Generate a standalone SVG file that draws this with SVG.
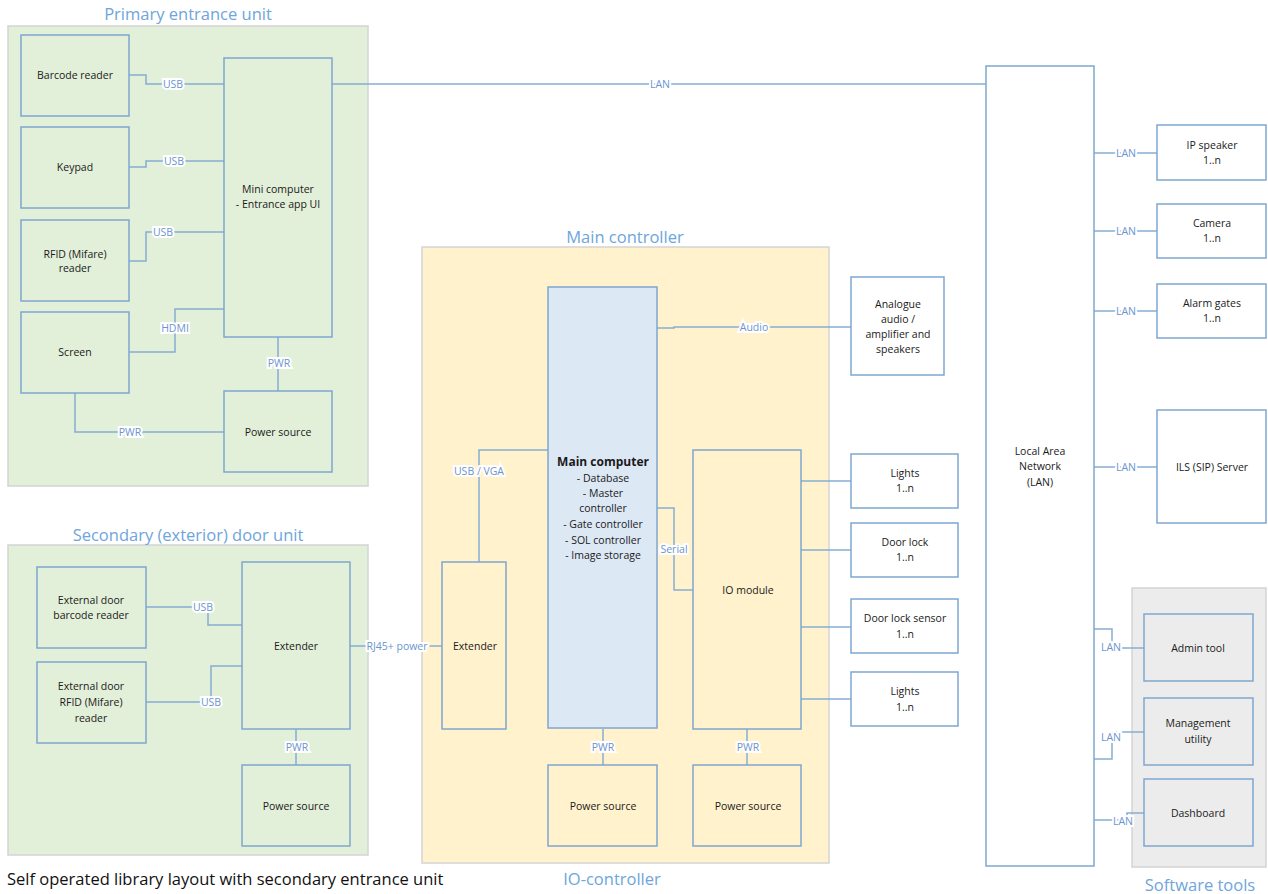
<svg xmlns="http://www.w3.org/2000/svg" width="1268" height="894" viewBox="0 0 1268 894">
<style>
.panel{stroke:#d4d4d4;stroke-width:1.5}
.green{fill:#e2efd9}
.yellow{fill:#fff2cc}
.grey{fill:#ececec}
.box{stroke:#7fa7cf;stroke-width:1.5}
.bg{fill:#e2efd9}
.by{fill:#fff2cc}
.bw{fill:#ffffff}
.bb{fill:#dde8f5}
.bgr{fill:#ececec}
.t{font-family:"Open Sans","Liberation Sans",sans-serif;font-size:10.5px;fill:#1a1a1a;text-anchor:middle}
.tb{font-weight:bold;font-size:12px}
.title{font-family:"Open Sans","Liberation Sans",sans-serif;font-size:16.5px;fill:#6ea5dc;text-anchor:middle}
.cap{font-family:"Open Sans","Liberation Sans",sans-serif;font-size:16.5px;fill:#111}
.conn path{fill:none;stroke:#86add4;stroke-width:1.5}
.lbl{font-family:"Open Sans","Liberation Sans",sans-serif;font-size:10.5px;fill:#6c94cf;text-anchor:middle;stroke:#ffffff;stroke-width:4;paint-order:stroke;stroke-linejoin:miter}
</style>

<g id="panels">
<rect class="panel green" x="8" y="26" width="360" height="460"/>
<text class="title" x="188" y="20">Primary entrance unit</text>
<rect class="panel green" x="8" y="545" width="360" height="310"/>
<text class="title" x="188" y="541">Secondary (exterior) door unit</text>
<rect class="panel yellow" x="422" y="247" width="407" height="616"/>
<text class="title" x="625" y="243">Main controller</text>
<text class="title" x="612" y="885">IO-controller</text>
<rect class="panel grey" x="1132" y="588" width="134" height="279"/>
<text class="title" x="1200" y="891">Software tools</text>
<text class="cap" x="7" y="885">Self operated library layout with secondary entrance unit</text>
</g>

<g id="connectors" class="conn">
<path d="M129,75 H146 V84 H224"/>
<path d="M129,167 H146 V161 H224"/>
<path d="M129,261 H146 V232 H224"/>
<path d="M129,352 H175 V309 H224"/>
<path d="M278,337 V391"/>
<path d="M75,393 V432 H224"/>
<path d="M332,84 H986"/>
<path d="M146,607 H208 V625 H242"/>
<path d="M146,702 H211 V666 H242"/>
<path d="M296,729 V765"/>
<path d="M350,646 H442"/>
<path d="M548,450 H479 V562"/>
<path d="M657,508 H674 V590 H693"/>
<path d="M657,328 H674 V327 H851"/>
<path d="M603,729 V765"/>
<path d="M747,729 V765"/>
<path d="M801,481 H851"/>
<path d="M801,550 H851"/>
<path d="M801,627 H851"/>
<path d="M801,699 H851"/>
<path d="M1094,153 H1157"/>
<path d="M1094,231 H1157"/>
<path d="M1094,311 H1157"/>
<path d="M1094,467 H1157"/>
<path d="M1094,629 H1112 V648 H1144"/>
<path d="M1094,759 H1112 V732 H1144"/>
<path d="M1094,820 H1127 V813 H1144"/>
<text class="lbl" x="173" y="88">USB</text>
<text class="lbl" x="174" y="165">USB</text>
<text class="lbl" x="163" y="236">USB</text>
<text class="lbl" x="175" y="332">HDMI</text>
<text class="lbl" x="279" y="367">PWR</text>
<text class="lbl" x="130" y="436">PWR</text>
<text class="lbl" x="660" y="88">LAN</text>
<text class="lbl" x="203" y="611">USB</text>
<text class="lbl" x="211" y="706">USB</text>
<text class="lbl" x="297" y="751">PWR</text>
<text class="lbl" x="397" y="650">RJ45+ power</text>
<text class="lbl" x="479" y="475">USB / VGA</text>
<text class="lbl" x="674" y="553">Serial</text>
<text class="lbl" x="754" y="331">Audio</text>
<text class="lbl" x="603" y="751">PWR</text>
<text class="lbl" x="748" y="751">PWR</text>
<text class="lbl" x="1126" y="157">LAN</text>
<text class="lbl" x="1126" y="235">LAN</text>
<text class="lbl" x="1126" y="315">LAN</text>
<text class="lbl" x="1126" y="471">LAN</text>
<text class="lbl" x="1111" y="651">LAN</text>
<text class="lbl" x="1111" y="741">LAN</text>
<text class="lbl" x="1123" y="825">LAN</text>
</g>

<g id="barcode-reader"><rect class="box bg" x="21" y="35" width="108" height="81"/><text class="t" x="75" y="79">Barcode reader</text></g>
<g id="keypad"><rect class="box bg" x="21" y="127" width="108" height="81"/><text class="t" x="75" y="171">Keypad</text></g>
<g id="rfid-reader"><rect class="box bg" x="21" y="220" width="108" height="81"/><text class="t" x="75" y="258">RFID (Mifare)</text><text class="t" x="75" y="272">reader</text></g>
<g id="screen"><rect class="box bg" x="21" y="312" width="108" height="81"/><text class="t" x="75" y="356">Screen</text></g>
<g id="mini-computer"><rect class="box bg" x="224" y="58" width="108" height="279"/><text class="t" x="278" y="193">Mini computer</text><text class="t" x="278" y="208">- Entrance app UI</text></g>
<g id="power-primary"><rect class="box bg" x="224" y="391" width="108" height="81"/><text class="t" x="278" y="436">Power source</text></g>

<g id="ext-barcode"><rect class="box bg" x="37" y="567" width="109" height="81"/><text class="t" x="91" y="604">External door</text><text class="t" x="91" y="619">barcode reader</text></g>
<g id="ext-rfid"><rect class="box bg" x="37" y="662" width="109" height="81"/><text class="t" x="91" y="690">External door</text><text class="t" x="91" y="706">RFID (Mifare)</text><text class="t" x="91" y="722">reader</text></g>
<g id="extender-secondary"><rect class="box bg" x="242" y="562" width="108" height="167"/><text class="t" x="296" y="650">Extender</text></g>
<g id="power-secondary"><rect class="box bg" x="242" y="765" width="108" height="81"/><text class="t" x="296" y="810">Power source</text></g>

<g id="extender-main"><rect class="box by" x="442" y="562" width="64" height="167"/><text class="t" x="475" y="650">Extender</text></g>
<g id="main-computer"><rect class="box bb" x="548" y="287" width="109" height="441"/>
<text class="t tb" x="603" y="466">Main computer</text>
<text class="t" x="603" y="482">- Database</text>
<text class="t" x="603" y="497">- Master</text>
<text class="t" x="603" y="512">controller</text>
<text class="t" x="603" y="528">- Gate controller</text>
<text class="t" x="603" y="544">- SOL controller</text>
<text class="t" x="603" y="559">- Image storage</text></g>
<g id="io-module"><rect class="box by" x="693" y="450" width="108" height="279"/><text class="t" x="748" y="594">IO module</text></g>
<g id="power-main"><rect class="box by" x="548" y="765" width="109" height="81"/><text class="t" x="603" y="810">Power source</text></g>
<g id="power-io"><rect class="box by" x="693" y="765" width="108" height="81"/><text class="t" x="748" y="810">Power source</text></g>

<g id="analogue-audio"><rect class="box bw" x="851" y="277" width="93" height="98"/>
<text class="t" x="898" y="308">Analogue</text><text class="t" x="898" y="323">audio /</text><text class="t" x="898" y="338">amplifier and</text><text class="t" x="898" y="353">speakers</text></g>
<g id="lights-1"><rect class="box bw" x="851" y="454" width="107" height="54"/><text class="t" x="905" y="477">Lights</text><text class="t" x="905" y="492">1..n</text></g>
<g id="door-lock"><rect class="box bw" x="851" y="523" width="107" height="54"/><text class="t" x="905" y="546">Door lock</text><text class="t" x="905" y="561">1..n</text></g>
<g id="door-lock-sensor"><rect class="box bw" x="851" y="599" width="107" height="54"/><text class="t" x="905" y="622">Door lock sensor</text><text class="t" x="905" y="638">1..n</text></g>
<g id="lights-2"><rect class="box bw" x="851" y="672" width="107" height="54"/><text class="t" x="905" y="695">Lights</text><text class="t" x="905" y="711">1..n</text></g>

<g id="lan"><rect class="box bw" x="986" y="66" width="108" height="800"/>
<text class="t" x="1040" y="455">Local Area</text><text class="t" x="1040" y="470">Network</text><text class="t" x="1040" y="486">(LAN)</text></g>
<g id="ip-speaker"><rect class="box bw" x="1157" y="125" width="109" height="55"/><text class="t" x="1212" y="149">IP speaker</text><text class="t" x="1212" y="164">1..n</text></g>
<g id="camera"><rect class="box bw" x="1157" y="204" width="109" height="54"/><text class="t" x="1212" y="227">Camera</text><text class="t" x="1212" y="242">1..n</text></g>
<g id="alarm-gates"><rect class="box bw" x="1157" y="284" width="109" height="54"/><text class="t" x="1212" y="307">Alarm gates</text><text class="t" x="1212" y="322">1..n</text></g>
<g id="ils-server"><rect class="box bw" x="1157" y="410" width="109" height="113"/><text class="t" x="1212" y="471">ILS (SIP) Server</text></g>

<g id="admin-tool"><rect class="box bgr" x="1144" y="614" width="109" height="67"/><text class="t" x="1198" y="652">Admin tool</text></g>
<g id="management-utility"><rect class="box bgr" x="1144" y="698" width="109" height="67"/><text class="t" x="1198" y="727">Management</text><text class="t" x="1198" y="743">utility</text></g>
<g id="dashboard"><rect class="box bgr" x="1144" y="779" width="109" height="67"/><text class="t" x="1198" y="817">Dashboard</text></g>
</svg>
